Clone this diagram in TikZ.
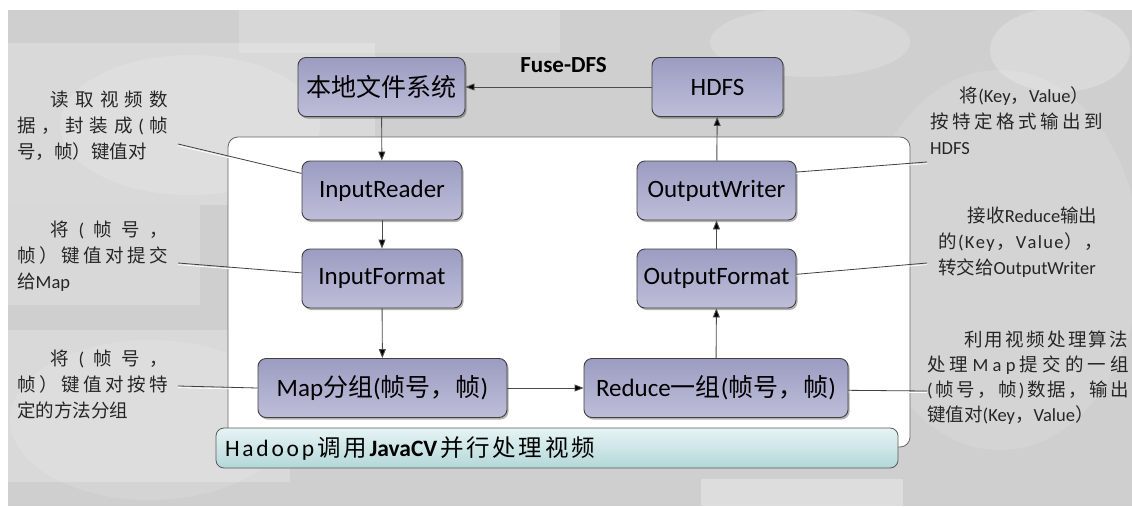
\documentclass[tikz,border=0pt]{standalone}
\usepackage{fontspec}
\setmainfont{Carlito}
\newfontfamily\cjk{Noto Sans CJK SC}
\usetikzlibrary{arrows.meta,shadows}

\XeTeXinterchartokenstate=1
\newXeTeXintercharclass\cjkclass
\newcount\cjkcount
\newcommand{\cjkrange}[2]{\cjkcount=#1\relax
  \loop\XeTeXcharclass\cjkcount=\cjkclass
  \ifnum\cjkcount<#2\advance\cjkcount by 1\repeat}
\cjkrange{"3000}{"303F}
\cjkrange{"4E00}{"9FFF}
\cjkrange{"FF00}{"FFEF}
\XeTeXinterchartoks 0 \cjkclass={\begingroup\cjk}
\XeTeXinterchartoks 4095 \cjkclass={\begingroup\cjk}
\XeTeXinterchartoks \cjkclass 0={\endgroup}
\XeTeXinterchartoks \cjkclass 4095={\endgroup}

\def\spreadstop{\spreadstop}
\def\spreadmark{\spreadstop}
\newcommand{\spreadloop}[1]{\def\spreadtmp{#1}%
  \ifx\spreadtmp\spreadmark\else\hfil{#1}\expandafter\spreadloop\fi}
\newcommand{\spreadfirst}[1]{{#1}\spreadloop}
\newcommand{\spreadrow}[2]{\makebox[#1][s]{\spreadfirst#2\spreadstop}}

\definecolor{boxtop}{RGB}{156,156,194}
\definecolor{boxbot}{RGB}{190,190,217}
\definecolor{hadtop}{RGB}{230,244,244}
\definecolor{hadbot}{RGB}{180,215,217}
\definecolor{panel}{RGB}{207,207,207}

\begin{document}
\begin{tikzpicture}[x=1pt,y=-1pt,
  box/.style={draw=black!75,line width=0.9pt,rounded corners=8pt,top color=boxtop,bottom color=boxbot,
    minimum height=59pt,inner sep=0pt,font=\fontsize{25}{30}\selectfont,
    drop shadow={shadow xshift=1.5pt,shadow yshift=-2pt,opacity=0.3,fill=black}},
  frame/.style={draw=black!60,fill=white,line width=0.8pt,rounded corners=10pt,inner sep=0pt},
  hadoop/.style={draw=black!65,line width=0.8pt,rounded corners=8pt,top color=hadtop,bottom color=hadbot,
    inner xsep=9pt,inner ysep=0pt,font=\fontsize{23.5}{28}\selectfont,text width=664pt,align=left},
  note/.style={font=\fontsize{18.5}{26}\selectfont,align=left,inner sep=0pt,text=black!85,anchor=west},
  flow/.style={draw=black!70,line width=0.9pt,-{Triangle[length=9pt,width=7pt]}},
  callout/.style={draw=black!75,line width=0.8pt,preaction={draw=white,line width=0.8pt,transform canvas={yshift=-1.6pt}}}]

\useasboundingbox (0,0) rectangle (1132,506);
\fill[panel] (8,10) rectangle (1132,506);
\fill[white,opacity=.22] (8,43) rectangle (375,205);
\fill[white,opacity=.18] (239,10) rectangle (560,53);
\fill[white,opacity=.2] (8,205) rectangle (200,305);
\fill[white,opacity=.22] (8,330) rectangle (290,482);
\fill[white,opacity=.3] (701,479) rectangle (903,506);
\fill[white,opacity=.15] (190,125) ellipse (130pt and 70pt);
\fill[white,opacity=.18] (810,42) ellipse (100pt and 35pt);
\fill[white,opacity=.22] (1060,50) ellipse (70pt and 42pt);
\fill[white,opacity=.12] (1000,260) ellipse (140pt and 190pt);
\fill[white,opacity=.12] (150,420) ellipse (140pt and 80pt);

\node[frame,minimum width=682pt,minimum height=310pt] (box) at (569,292) {};
\node[hadoop,minimum width=682pt,minimum height=40pt] (hadoop) at (557,448)
  {\spreadrow{370pt}{Hadoop调用{\bfseries JavaCV}并行处理视频}};

\node[box,minimum width=167pt] (local) at (381.5,87) {本地文件系统};
\node[box,minimum width=131pt] (hdfs) at (717.5,87) {HDFS};
\node[font=\fontsize{23}{28}\selectfont\bfseries] (fuse) at (563.5,65) {Fuse-DFS};
\node[box,minimum width=160pt] (ireader) at (382,190.5) {InputReader};
\node[box,minimum width=160pt] (iformat) at (382,278.5) {InputFormat};
\node[box,minimum width=249pt] (map) at (382.5,388) {Map分组(帧号，帧)};
\node[box,minimum width=264pt] (reduce) at (716,388) {Reduce一组(帧号，帧)};
\node[box,minimum width=159pt] (oformat) at (716.5,278.5) {OutputFormat};
\node[box,minimum width=159pt] (owriter) at (716.5,190.5) {OutputWriter};

\path[flow] (hdfs) edge (local) (local) edge (ireader) (ireader) edge (iformat) (iformat) edge (map)
  (map) edge (reduce) (reduce) edge (oformat) (oformat) edge (owriter) (owriter) edge (hdfs);

\node[note] (n-read) at (17,125.5)
  {\hspace*{1.8em}\spreadrow{117.7pt}{读取视频数}\\\spreadrow{151pt}{据，封装成(帧}\\号，帧）键值对};
\node[note] (n-submit) at (17,256)
  {\hspace*{1.8em}\spreadrow{117.7pt}{将(帧号，}\\\spreadrow{151pt}{帧）键值对提交}\\给Map};
\node[note] (n-group) at (17,384)
  {\hspace*{1.8em}\spreadrow{117.7pt}{将(帧号，}\\\spreadrow{151pt}{帧）键值对按特}\\定的方法分组};
\node[note] (n-output) at (930,121)
  {\hspace*{1.6em}将(Key，Value）\\\spreadrow{173pt}{按特定格式输出到}\\HDFS};
\node[note] (n-recv) at (938,242.5)
  {\hspace*{1.6em}接收Reduce输出\\\spreadrow{165pt}{的(Key，Value），}\\转交给OutputWriter};
\node[note,font=\fontsize{18.5}{25}\selectfont] (n-proc) at (927,378)
  {\hspace*{2em}\spreadrow{164pt}{利用视频处理算法}\\\spreadrow{202pt}{处理Map提交的一组}\\\spreadrow{202pt}{(帧号，帧)数据，输出}\\键值对(Key，Value）};

\coordinate (c-read) at (178,144);
\coordinate (c-submit) at (178,263);
\coordinate (c-group) at (178,386);
\coordinate (c-output) at (927,162);
\coordinate (c-recv) at (927,263);
\coordinate (c-proc) at (927,391);
\draw[callout] (c-read) -- (ireader.168);
\draw[callout] (c-submit) -- (iformat.176);
\draw[callout] (c-group) -- (map.west);
\draw[callout] (owriter.13) -- (c-output);
\draw[callout] (oformat.3) -- (c-recv);
\draw[callout] (reduce.-1) -- (c-proc);

\end{tikzpicture}
\end{document}
